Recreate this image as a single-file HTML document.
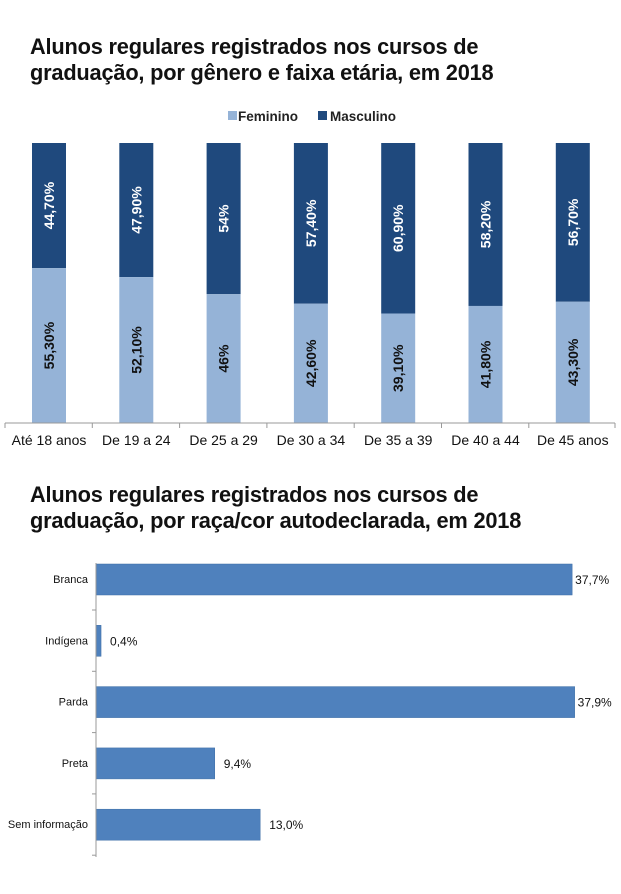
<!DOCTYPE html>
<html><head><meta charset="utf-8"><style>
body{margin:0;background:#fff;width:621px;height:894px;overflow:hidden;font-family:"Liberation Sans",Arial,sans-serif}
.t{position:absolute;left:30px;font-weight:bold;font-size:21.8px;line-height:26px;color:#111;letter-spacing:-0.2px}
</style></head><body>
<div class="t" style="top:34px">Alunos regulares registrados nos cursos de<br>graduação, por gênero e faixa etária, em 2018</div>
<div class="t" style="top:482px">Alunos regulares registrados nos cursos de<br>graduação, por raça/cor autodeclarada, em 2018</div>
<svg width="621" height="894" style="position:absolute;left:0;top:0" font-family="Liberation Sans, Arial, sans-serif">
<rect x="228" y="111" width="9" height="9" fill="#95b3d7"/>
<text x="238" y="121" font-size="13.5" font-weight="bold" fill="#222">Feminino</text>
<rect x="318" y="111" width="9" height="9" fill="#1f497d"/>
<text x="330" y="121" font-size="13.5" font-weight="bold" fill="#222">Masculino</text>
<g id="bars"></g>
<line x1="5" y1="423" x2="615" y2="423" stroke="#999"/>
<g id="b2"></g>
<line x1="96" y1="563" x2="96" y2="857" stroke="#999"/>
</svg>
<script>
var f=[55.3,52.1,46,42.6,39.1,41.8,43.3],fl=["55,30%","52,10%","46%","42,60%","39,10%","41,80%","43,30%"],
ml=["44,70%","47,90%","54%","57,40%","60,90%","58,20%","56,70%"],
c=["Até 18 anos","De 19 a 24","De 25 a 29","De 30 a 34","De 35 a 39","De 40 a 44","De 45 anos"];
var s="";
for(var i=0;i<7;i++){var x=32+i*87.3,fh=f[i]*2.8,ft=423-fh,cx=x+17;
s+='<rect x="'+x+'" y="143" width="34" height="'+(ft-143)+'" fill="#1f497d"/>';
s+='<rect x="'+x+'" y="'+ft+'" width="34" height="'+fh+'" fill="#95b3d7"/>';
s+='<text transform="translate('+(cx+5)+','+((143+ft)/2)+') rotate(-90)" text-anchor="middle" font-size="14" font-weight="bold" fill="#fff">'+ml[i]+'</text>';
s+='<text transform="translate('+(cx+5)+','+((ft+423)/2)+') rotate(-90)" text-anchor="middle" font-size="14" font-weight="bold" fill="#111">'+fl[i]+'</text>';
s+='<text x="'+(cx)+'" y="445" text-anchor="middle" font-size="14" fill="#111">'+c[i]+'</text>';
var tx=5+i*87.3;s+='<line x1="'+tx+'" y1="423" x2="'+tx+'" y2="428" stroke="#999"/>';}
s+='<line x1="615" y1="423" x2="615" y2="428" stroke="#999"/>';
document.getElementById("bars").innerHTML=s;
var n=["Branca","Indígena","Parda","Preta","Sem informação"],v=[37.7,0.4,37.9,9.4,13.0],vl=["37,7%","0,4%","37,9%","9,4%","13,0%"],t="";
for(var j=0;j<5;j++){var y=564+j*61.3,w=v[j]*12.63;
t+='<rect x="96" y="'+y+'" width="'+w+'" height="31" fill="#4f81bd" stroke="#3e6ea6" stroke-width="0.5"/>';
t+='<text x="88" y="'+(y+19)+'" text-anchor="end" font-size="11" fill="#111">'+n[j]+'</text>';
t+='<text x="'+(96+w+(j==0||j==2?3:9))+'" y="'+(y+20)+'" font-size="12" fill="#111">'+vl[j]+'</text>';
t+='<line x1="92" y1="'+(y+46)+'" x2="96" y2="'+(y+46)+'" stroke="#999"/>';}
document.getElementById("b2").innerHTML=t;
</script>
</body></html>
